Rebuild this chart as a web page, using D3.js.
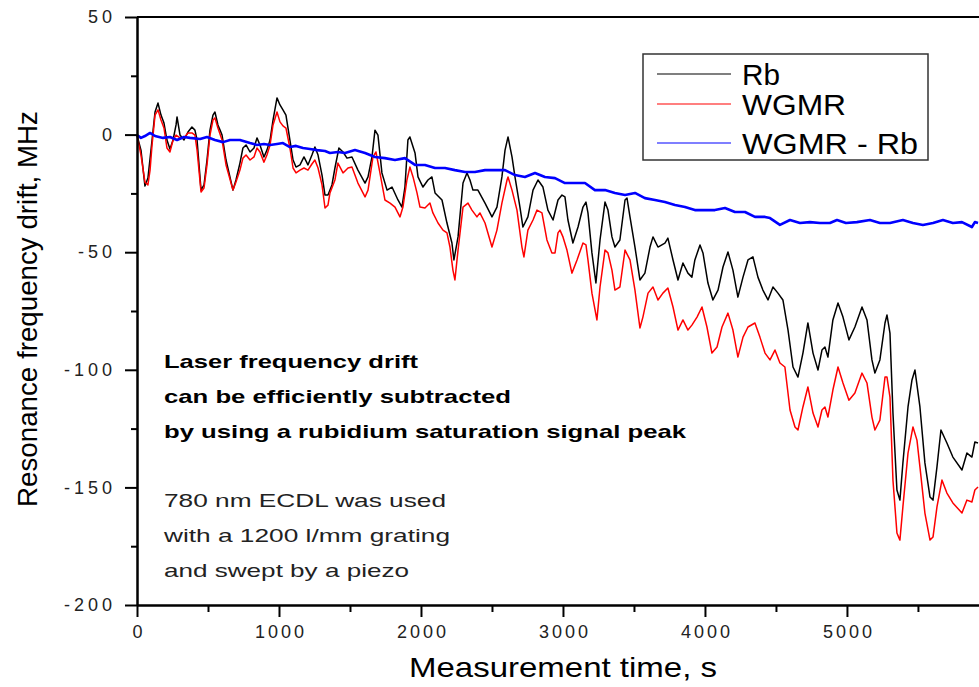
<!DOCTYPE html>
<html>
<head>
<meta charset="utf-8">
<script src="https://cdn.jsdelivr.net/npm/d3@7"></script>
<style>
  body { margin: 0; background: #fff; }
  text { font-family: "Liberation Sans", Arial, sans-serif; }
</style>
</head>
<body>
<script>
// Datos: [tiempo (s), deriva (MHz)]
const serieRb = [
  [0,-0.2],[28,-6.6],[56,-21.9],[77,-18.5],[106,-2.3],[127,9.6],[148,13.4],[169,8.3],[190,4.9],[211,-2.3],
  [232,-6.1],[254,-2.3],[275,4.1],[282,7.5],[303,-0.2],[331,-2.3],[359,1.1],[387,3.2],[408,1.9],[423,-2.3],
  [451,-23.6],[472,-21.4],[493,-10.8],[514,1.9],[535,8.3],[549,9.6],[570,4.1],[585,1.9],[599,-0.2],[627,-10.8],
  [676,-23.6],[697,-19.3],[725,-12.1],[746,-5.7],[768,-4.4],[796,-7.4],[824,-5.7],[845,-1.4],[866,-4.4],[894,-9.5],
  [915,-6.6],[937,-2.3],[958,6.2],[986,15.6],[1007,12.6],[1028,10.5],[1049,8.3],[1077,-2.3],[1099,-10.8],[1120,-13.8],
  [1148,-12.9],[1176,-9.5],[1204,-12.9],[1232,-8.7],[1253,-5.3],[1275,-8.7],[1303,-17.2],[1324,-25.7],[1345,-25.7],[1373,-21.4],
  [1394,-14.2],[1422,-5.7],[1451,-7.4],[1479,-10.0],[1514,-9.5],[1556,-15.1],[1606,-20.6],[1627,-18.0],[1655,-9.5],[1676,1.9],
  [1697,-0.2],[1725,-16.3],[1761,-23.6],[1796,-22.3],[1838,-27.8],[1866,-30.8],[1887,-22.3],[1908,-2.3],[1922,-1.0],[1958,-7.8],
  [1979,-18.0],[2014,-22.3],[2049,-19.3],[2077,-18.0],[2099,-24.8],[2148,-27.8],[2183,-37.6],[2218,-46.1],[2232,-53.3],[2261,-43.5],
  [2296,-20.6],[2324,-16.3],[2345,-19.3],[2366,-23.6],[2401,-23.6],[2451,-29.1],[2500,-35.0],[2535,-30.8],[2570,-18.0],[2592,-6.6],
  [2613,-1.0],[2641,-9.5],[2662,-18.0],[2697,-30.8],[2718,-39.3],[2753,-35.0],[2789,-23.6],[2824,-19.3],[2859,-22.3],[2894,-32.1],
  [2930,-36.3],[2965,-27.8],[2993,-25.7],[3014,-26.5],[3035,-36.3],[3070,-46.1],[3106,-39.3],[3141,-30.8],[3162,-28.7],[3176,-33.3],
  [3204,-50.3],[3232,-63.1],[3261,-44.8],[3296,-28.7],[3317,-32.1],[3345,-43.5],[3366,-47.8],[3401,-44.8],[3437,-27.8],[3451,-27.0],
  [3472,-35.0],[3507,-47.8],[3542,-61.8],[3577,-58.9],[3613,-47.8],[3634,-43.5],[3669,-47.8],[3718,-46.1],[3739,-44.0],[3775,-53.3],
  [3810,-61.8],[3845,-54.6],[3880,-58.9],[3908,-60.6],[3929,-53.3],[3965,-46.9],[3986,-50.3],[4021,-63.1],[4056,-70.3],[4092,-66.1],
  [4127,-56.3],[4162,-49.9],[4197,-57.6],[4232,-69.1],[4268,-60.6],[4303,-53.3],[4338,-52.0],[4373,-60.6],[4408,-66.1],[4444,-70.3],
  [4479,-64.8],[4514,-67.4],[4549,-70.3],[4585,-83.1],[4620,-98.8],[4655,-103.1],[4690,-92.9],[4725,-80.1],[4761,-92.9],[4796,-100.1],
  [4824,-91.6],[4845,-90.3],[4866,-94.6],[4901,-78.8],[4937,-71.6],[4972,-77.6],[5014,-87.3],[5056,-81.8],[5106,-73.3],[5141,-78.8],
  [5176,-95.8],[5197,-101.4],[5232,-95.8],[5268,-80.1],[5282,-76.7],[5303,-84.4],[5324,-118.4],[5352,-151.1],[5373,-155.4],[5394,-139.6],
  [5430,-115.8],[5458,-104.3],[5479,-100.1],[5514,-115.8],[5549,-139.6],[5585,-154.1],[5606,-155.4],[5634,-141.3],[5662,-125.6],[5704,-131.1],
  [5746,-137.1],[5810,-142.6],[5845,-135.4],[5880,-137.1],[5901,-130.7],[5923,-131.1]
];

const serieWgmr = [
  [0,-0.2],[28,-8.7],[56,-20.2],[77,-21.4],[92,-15.1],[106,-4.4],[127,8.3],[148,10.5],[169,6.2],[190,2.8],
  [211,-5.7],[232,-7.4],[254,-2.3],[275,-0.2],[303,-1.4],[331,-1.4],[359,0.7],[387,0.7],[408,-0.2],[423,-6.6],
  [451,-24.4],[472,-22.7],[493,-12.9],[514,-0.2],[535,6.2],[549,7.1],[570,2.8],[599,-2.3],[627,-12.9],[676,-23.6],
  [697,-20.2],[725,-15.1],[746,-10.0],[768,-8.7],[796,-10.8],[824,-9.5],[845,-5.7],[866,-7.4],[894,-11.7],[915,-8.7],
  [937,-4.4],[958,4.1],[986,9.6],[1007,5.4],[1028,3.7],[1049,2.8],[1077,-5.7],[1099,-14.2],[1120,-16.3],[1148,-15.1],
  [1176,-14.2],[1204,-15.1],[1232,-12.5],[1253,-10.8],[1275,-14.2],[1303,-21.4],[1324,-31.2],[1345,-30.0],[1359,-24.8],[1394,-19.3],
  [1415,-12.1],[1451,-16.3],[1486,-14.2],[1514,-13.8],[1556,-20.6],[1606,-26.5],[1627,-23.6],[1662,-9.5],[1683,-7.4],[1711,-16.3],
  [1746,-27.8],[1782,-29.1],[1817,-30.8],[1852,-35.0],[1873,-30.8],[1901,-19.3],[1922,-13.8],[1944,-18.0],[1972,-24.8],[1993,-30.8],
  [2028,-31.2],[2063,-29.1],[2084,-33.3],[2120,-37.6],[2155,-40.6],[2183,-41.8],[2204,-47.8],[2225,-57.6],[2239,-61.8],[2261,-49.1],
  [2296,-30.8],[2331,-29.1],[2359,-32.1],[2394,-35.0],[2415,-33.3],[2451,-37.6],[2500,-47.8],[2535,-40.6],[2570,-29.1],[2606,-19.3],
  [2613,-18.0],[2641,-23.6],[2676,-32.1],[2711,-47.8],[2725,-52.0],[2753,-40.6],[2789,-36.3],[2817,-32.1],[2852,-33.3],[2887,-44.8],
  [2922,-50.3],[2944,-50.3],[2965,-41.8],[2979,-40.6],[3000,-43.5],[3028,-49.1],[3063,-58.9],[3099,-53.3],[3141,-46.1],[3162,-46.9],
  [3176,-53.3],[3204,-67.4],[3239,-78.8],[3261,-64.8],[3296,-49.1],[3317,-50.3],[3345,-57.6],[3366,-66.1],[3401,-64.8],[3437,-49.1],
  [3472,-53.3],[3507,-66.1],[3542,-82.2],[3563,-77.6],[3599,-67.4],[3634,-64.8],[3669,-70.3],[3704,-67.4],[3739,-65.2],[3775,-73.3],
  [3810,-83.1],[3845,-78.8],[3880,-83.1],[3908,-81.0],[3944,-77.6],[3979,-73.3],[4014,-81.8],[4049,-92.9],[4085,-90.3],[4120,-81.8],
  [4162,-75.9],[4197,-83.1],[4232,-94.6],[4268,-86.1],[4303,-81.8],[4352,-80.1],[4387,-86.1],[4423,-92.9],[4458,-95.8],[4493,-91.6],
  [4528,-97.1],[4563,-98.8],[4599,-117.1],[4634,-124.3],[4655,-125.6],[4690,-115.8],[4725,-107.3],[4761,-118.4],[4796,-124.3],[4824,-117.1],
  [4845,-115.8],[4866,-120.1],[4901,-108.6],[4937,-98.8],[4972,-105.6],[5014,-112.9],[5056,-109.9],[5106,-101.4],[5141,-105.6],[5176,-120.1],
  [5197,-125.6],[5232,-121.4],[5268,-103.1],[5282,-103.1],[5303,-111.6],[5324,-146.9],[5352,-169.4],[5373,-172.4],[5394,-158.3],[5430,-135.4],
  [5465,-124.3],[5493,-129.9],[5514,-141.3],[5549,-160.9],[5585,-172.4],[5606,-171.1],[5634,-158.3],[5669,-146.9],[5704,-152.4],[5746,-156.6],
  [5810,-160.9],[5845,-155.4],[5880,-156.2],[5901,-151.1],[5923,-149.8]
];

const serieDif = [
  [0,-0.2],[28,-1.4],[56,-0.6],[92,0.7],[127,-0.6],[183,-1.4],[232,-1.0],[282,-2.3],[331,-1.0],[373,-1.4],
  [444,-1.9],[493,-1.0],[549,-2.3],[606,-3.2],[655,-2.3],[725,-2.3],[796,-3.6],[845,-4.4],[894,-4.0],[937,-4.4],
  [986,-4.0],[1028,-3.6],[1077,-5.3],[1120,-4.8],[1169,-5.7],[1218,-6.1],[1268,-6.6],[1324,-7.0],[1359,-7.8],[1415,-7.4],
  [1465,-7.8],[1535,-6.6],[1606,-7.8],[1676,-9.5],[1746,-10.0],[1817,-10.8],[1887,-10.0],[1958,-12.9],[2028,-12.9],[2099,-14.2],
  [2169,-14.2],[2239,-15.1],[2310,-15.9],[2380,-15.9],[2451,-15.1],[2521,-15.1],[2592,-15.1],[2662,-17.2],[2732,-18.0],[2803,-16.3],
  [2873,-18.0],[2944,-18.5],[3014,-20.6],[3084,-20.6],[3155,-20.6],[3225,-23.6],[3296,-23.6],[3366,-24.8],[3437,-25.7],[3507,-24.8],
  [3577,-27.0],[3648,-27.8],[3718,-28.7],[3789,-29.9],[3859,-30.8],[3929,-32.1],[4000,-32.1],[4070,-32.1],[4141,-31.2],[4211,-32.9],
  [4282,-32.9],[4352,-35.0],[4423,-35.0],[4458,-35.5],[4528,-38.4],[4599,-36.3],[4669,-37.6],[4739,-37.2],[4810,-37.6],[4880,-37.6],
  [4930,-36.3],[4993,-37.6],[5070,-37.2],[5162,-36.3],[5232,-37.6],[5303,-37.6],[5394,-36.3],[5465,-37.6],[5535,-38.4],[5606,-37.6],
  [5676,-36.3],[5746,-37.6],[5810,-37.2],[5880,-39.3],[5901,-37.2],[5923,-37.6]
];

const ticksX = [0, 1000, 2000, 3000, 4000, 5000];
const ticksXMenores = [500, 1500, 2500, 3500, 4500, 5500];
const ticksY = [50, 0, -50, -100, -150, -200];
const ticksYMenores = [25, -25, -75, -125, -175];

const series = [
  { nombre: "Rb", datos: serieRb, color: "#000000", grosor: 1.5 },
  { nombre: "WGMR", datos: serieWgmr, color: "#ff0000", grosor: 1.5 },
  { nombre: "WGMR - Rb", datos: serieDif, color: "#0000ff", grosor: 2.6 }
];

const notaNegrita = [
  "Laser frequency drift",
  "can be efficiently subtracted",
  "by using a rubidium saturation signal peak"
];
const notaNormal = [
  "780 nm ECDL was used",
  "with a 1200 l/mm grating",
  "and swept by a piezo"
];

const ancho = 979, alto = 687;
const izq = 137, arriba = 17, abajo = 605;

const svg = d3.select("body")
  .append("svg")
  .attr("width", ancho)
  .attr("height", alto);

const x = d3.scaleLinear().domain([0, 5930]).range([izq, ancho]);
const y = d3.scaleLinear().domain([-200, 50]).range([abajo, arriba]);

// Curvas: negra y roja primero, la azul queda encima
const linea = d3.line().x(d => x(d[0])).y(d => y(d[1]));

svg.append("g")
  .selectAll("path")
  .data(series)
  .join("path")
  .attr("fill", "none")
  .attr("stroke", d => d.color)
  .attr("stroke-width", d => d.grosor)
  .attr("stroke-linejoin", "round")
  .attr("d", d => linea(d.datos));

// Ejes con marcas hacia afuera
const ejeX = svg.append("g")
  .attr("transform", `translate(0,${abajo})`)
  .call(d3.axisBottom(x).tickValues(ticksX).tickSize(12).tickSizeOuter(0).tickPadding(8)
    .tickFormat(d3.format("d")));
svg.append("g")
  .attr("transform", `translate(0,${abajo})`)
  .call(d3.axisBottom(x).tickValues(ticksXMenores).tickSize(7).tickSizeOuter(0).tickFormat(""));

const ejeY = svg.append("g")
  .attr("transform", `translate(${izq},0)`)
  .call(d3.axisLeft(y).tickValues(ticksY).tickSize(12).tickSizeOuter(0).tickPadding(12)
    .tickFormat(d => d < 0 ? "-" + Math.abs(d) : d));
svg.append("g")
  .attr("transform", `translate(${izq},0)`)
  .call(d3.axisLeft(y).tickValues(ticksYMenores).tickSize(6).tickSizeOuter(0).tickFormat(""));

svg.selectAll(".domain, .tick line")
  .attr("stroke", "#000")
  .attr("stroke-width", 2);

svg.selectAll(".tick text")
  .attr("fill", "#222")
  .style("font-size", "18px")
  .style("font-family", "'Liberation Sans', Arial, sans-serif");

ejeY.selectAll(".tick text").attr("letter-spacing", "4px").attr("dx", "3px");
ejeX.selectAll(".tick text").attr("letter-spacing", "3px").attr("dx", "1.5px");

// Borde superior
svg.append("line")
  .attr("x1", izq).attr("x2", ancho)
  .attr("y1", arriba).attr("y2", arriba)
  .attr("stroke", "#000").attr("stroke-width", 2);

// Titulos de ejes
svg.append("text")
  .attr("x", (izq + ancho) / 2 + 5)
  .attr("y", 677)
  .attr("text-anchor", "middle")
  .attr("textLength", 308)
  .attr("lengthAdjust", "spacingAndGlyphs")
  .style("font-size", "28px")
  .text("Measurement time, s");

svg.append("text")
  .attr("transform", "translate(37,309) rotate(-90)")
  .attr("text-anchor", "middle")
  .attr("textLength", 396)
  .attr("lengthAdjust", "spacingAndGlyphs")
  .style("font-size", "27px")
  .text("Resonance frequency drift, MHz");

// Leyenda
const leyenda = svg.append("g");
leyenda.append("rect")
  .attr("x", 643).attr("y", 54)
  .attr("width", 285).attr("height", 106)
  .attr("fill", "#fff")
  .attr("stroke", "#333")
  .attr("stroke-width", 1.5);

const filasLeyenda = [74, 104, 143];
const anchosLeyenda = [38, 104, 176];
leyenda.selectAll("g.item")
  .data(series)
  .join("g")
  .attr("class", "item")
  .each(function (d, i) {
    const g = d3.select(this);
    g.append("line")
      .attr("x1", 657).attr("x2", 731)
      .attr("y1", filasLeyenda[i]).attr("y2", filasLeyenda[i])
      .attr("stroke", d.color)
      .attr("stroke-width", 1.2);
    g.append("text")
      .attr("x", 742)
      .attr("y", filasLeyenda[i] + 11)
      .attr("textLength", anchosLeyenda[i])
      .attr("lengthAdjust", "spacingAndGlyphs")
      .style("font-size", "29px")
      .text(d.nombre);
  });

// Notas de texto
const largosNegrita = [254, 347, 522];
svg.append("g")
  .selectAll("text")
  .data(notaNegrita)
  .join("text")
  .attr("x", 164)
  .attr("y", (d, i) => 368 + i * 35)
  .attr("textLength", (d, i) => largosNegrita[i])
  .attr("lengthAdjust", "spacingAndGlyphs")
  .style("font-size", "19px")
  .style("font-weight", "bold")
  .text(d => d);

const largosNormal = [282, 286, 245];
svg.append("g")
  .selectAll("text")
  .data(notaNormal)
  .join("text")
  .attr("x", 164)
  .attr("y", (d, i) => 507 + i * 35)
  .attr("textLength", (d, i) => largosNormal[i])
  .attr("lengthAdjust", "spacingAndGlyphs")
  .attr("fill", "#222")
  .style("font-size", "19px")
  .text(d => d);
</script>
</body>
</html>
